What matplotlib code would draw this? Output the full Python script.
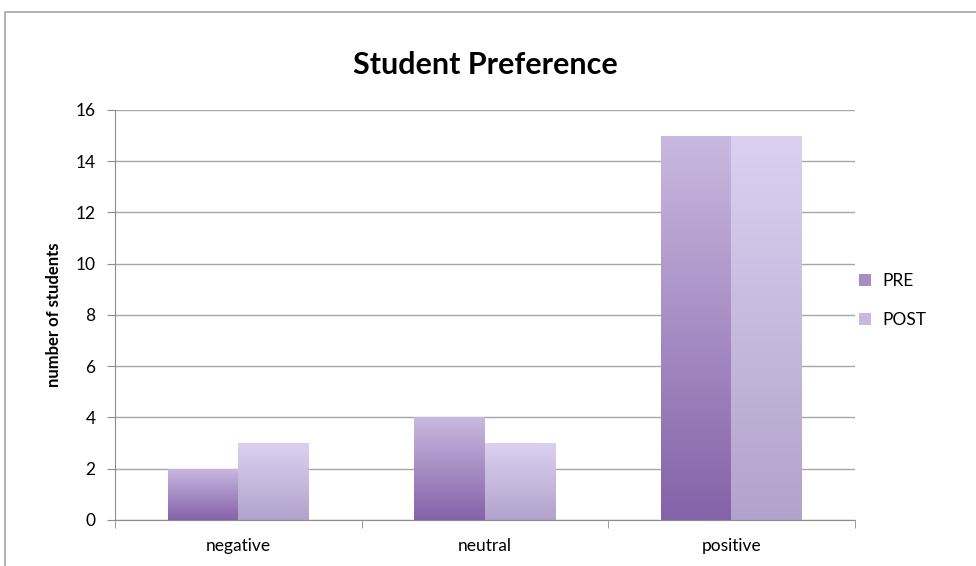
import numpy as np
import matplotlib
matplotlib.use("Agg")
import matplotlib.pyplot as plt
from matplotlib.colors import LinearSegmentedColormap
from matplotlib.patches import Rectangle

categories = ["negative", "neutral", "positive"]
pre = [2, 4, 15]
post = [3, 3, 15]
series_names = ["PRE", "POST"]

plt.rcParams['font.family'] = ['Lato', 'DejaVu Sans']

fig = plt.figure(figsize=(9.76, 5.66), dpi=100)
ax = fig.add_axes([0.1178, 0.0813, 0.758, 0.7244])

# outer chart frame
fig.patches.append(Rectangle((0.005, -0.1), 1.2, 1.079, transform=fig.transFigure,
                             fill=False, edgecolor='#a6a6a6', linewidth=1.2))

x = np.arange(len(categories))
w = 0.286
cmap_pre = LinearSegmentedColormap.from_list('pre', ['#8462a8', '#c9b9e0'])
cmap_post = LinearSegmentedColormap.from_list('post', ['#b3a2cc', '#dcd0f0'])
grad = np.linspace(0, 1, 256).reshape(-1, 1)

for vals, offset, cmap, name in [(pre, -w / 2, cmap_pre, series_names[0]),
                                 (post, w / 2, cmap_post, series_names[1])]:
    bars = ax.bar(x + offset, vals, w, color=cmap(0.5), label=name, zorder=2)
    for b in bars:
        bx, by = b.get_x(), b.get_y()
        bw, bh = b.get_width(), b.get_height()
        b.set_facecolor('none')
        b.set_edgecolor('none')
        im = ax.imshow(grad, cmap=cmap, origin='lower', aspect='auto',
                       extent=[bx, bx + bw, by, by + bh], zorder=2)
        im.set_clip_path(b)

ax.set_xlim(-0.5, 2.5)
ax.set_ylim(0, 16)
ax.set_yticks(range(0, 17, 2))
ax.set_xticks(x)
ax.set_xticklabels(categories)
ax.set_xticks([-0.5, 0.5, 1.5, 2.5], minor=True)
ax.tick_params(axis='x', which='major', length=0, pad=13, labelsize=12.5)
ax.tick_params(axis='x', which='minor', length=6, color='#8c8c8c')
ax.tick_params(axis='y', length=6, color='#8c8c8c', labelsize=12.5, pad=8)
ax.grid(axis='y', color='#a6a6a6', linewidth=1, zorder=0)
ax.set_axisbelow(True)
for s in ['top', 'right']:
    ax.spines[s].set_visible(False)
for s in ['left', 'bottom']:
    ax.spines[s].set_color('#8c8c8c')

ax.set_ylabel('number of students', fontsize=12, fontweight='bold', labelpad=10)
ax.set_title('Student Preference', fontsize=22, fontweight='bold', pad=26)

handles = [Rectangle((0, 0), 1, 1, facecolor=cmap_pre(0.5)),
           Rectangle((0, 0), 1, 1, facecolor=cmap_post(0.5))]
ax.legend(handles, series_names, loc='center left', bbox_to_anchor=(0.985, 0.535),
          frameon=False, fontsize=12.5, handlelength=0.7, handleheight=0.7,
          labelspacing=1.3, handletextpad=0.6)

fig.savefig('out.png', dpi=100)
